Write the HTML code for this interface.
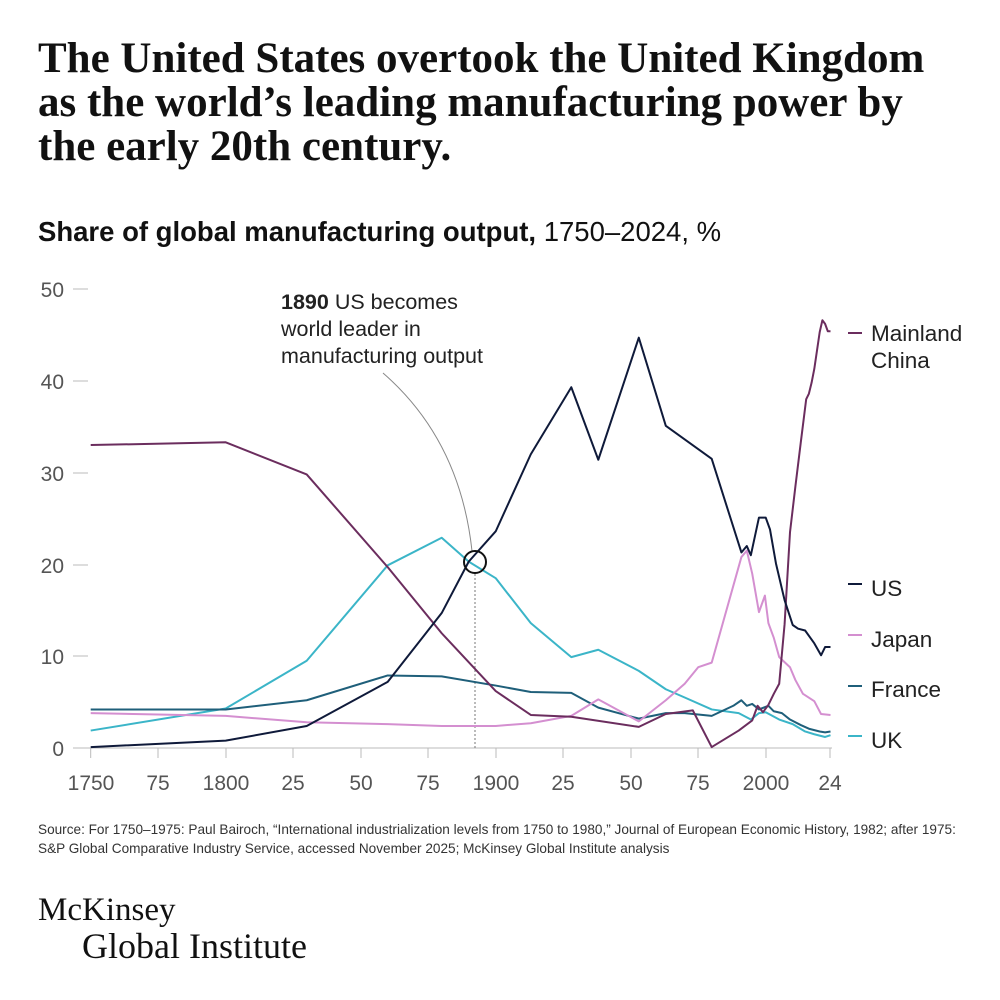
<!DOCTYPE html>
<html><head><meta charset="utf-8"><style>
body{margin:0;background:#fff;width:1000px;height:1000px;overflow:hidden;font-family:"Liberation Sans",sans-serif}
.t{position:absolute;left:38px;top:37px;font-family:"Liberation Serif",serif;font-weight:bold;font-size:43px;line-height:44px;color:#111;white-space:nowrap}
.s{position:absolute;left:38px;top:216px;font-size:27.5px;color:#111;white-space:nowrap}
.src{position:absolute;left:38px;top:820px;font-size:13.6px;line-height:19px;color:#333;white-space:nowrap}
.logo1{position:absolute;left:38px;top:892px;font-family:"Liberation Serif",serif;font-size:33px;color:#111;white-space:nowrap}
.logo2{position:absolute;left:82px;top:925px;font-family:"Liberation Serif",serif;font-size:36px;color:#111;white-space:nowrap}
</style></head><body>
<div class="t">The United States overtook the United Kingdom<br>as the world’s leading manufacturing power by<br>the early 20th century.</div>
<div class="s"><b>Share of global manufacturing output,</b> 1750–2024, %</div>
<svg width="1000" height="1000" style="position:absolute;left:0;top:0">
<g font-family="Liberation Sans" font-size="21" fill="#555" text-anchor="end">
<text x="64" y="297">50</text><text x="64" y="389">40</text><text x="64" y="481">30</text><text x="64" y="573">20</text><text x="64" y="664">10</text><text x="64" y="756">0</text>
</g>
<g stroke="#bbb" stroke-width="1">
<line x1="73" x2="88" y1="289" y2="289"/><line x1="73" x2="88" y1="381" y2="381"/><line x1="73" x2="88" y1="473" y2="473"/><line x1="73" x2="88" y1="565" y2="565"/><line x1="73" x2="88" y1="656" y2="656"/>
<line x1="73" x2="832" y1="748" y2="748"/>
<line x1="90.7" x2="90.7" y1="748" y2="758"/><line x1="158" x2="158" y1="748" y2="758"/><line x1="226" x2="226" y1="748" y2="758"/><line x1="293" x2="293" y1="748" y2="758"/><line x1="361" x2="361" y1="748" y2="758"/><line x1="428" x2="428" y1="748" y2="758"/><line x1="496" x2="496" y1="748" y2="758"/><line x1="563" x2="563" y1="748" y2="758"/><line x1="631" x2="631" y1="748" y2="758"/><line x1="698" x2="698" y1="748" y2="758"/><line x1="766" x2="766" y1="748" y2="758"/><line x1="830" x2="830" y1="748" y2="758"/>
</g>
<g font-family="Liberation Sans" font-size="21" fill="#555" text-anchor="middle">
<text x="91" y="790">1750</text><text x="158" y="790">75</text><text x="226" y="790">1800</text><text x="293" y="790">25</text><text x="361" y="790">50</text><text x="428" y="790">75</text><text x="496" y="790">1900</text><text x="563" y="790">25</text><text x="631" y="790">50</text><text x="698" y="790">75</text><text x="766" y="790">2000</text><text x="830" y="790">24</text>
</g>
<line x1="475" y1="574" x2="475" y2="748" stroke="#777" stroke-dasharray="2,2"/>
<path d="M383,373 Q460,440 472,551" fill="none" stroke="#888" stroke-width="1"/>
<g transform="translate(-4634.3,748) scale(2.7,-9.18)" fill="none" stroke-width="2" stroke-linejoin="round">
<polyline vector-effect="non-scaling-stroke" stroke="#3bb5c8" points="1750,1.9 1800,4.3 1830,9.5 1860,19.9 1880,22.9 1890,20.3 1900,18.5 1913,13.6 1928,9.9 1938,10.7 1953,8.4 1963,6.4 1970,5.5 1980,4.2 1990,3.8 1994.5,3.1 1997.5,3.8 2000,3.9 2005,3.1 2010,2.6 2014.6,1.8 2018,1.5 2022,1.2 2024,1.4"/>
<polyline vector-effect="non-scaling-stroke" stroke="#1f5f7a" points="1750,4.2 1800,4.2 1830,5.2 1860,7.9 1880,7.8 1900,6.8 1913,6.1 1928,6.0 1938,4.4 1953,3.2 1963,3.8 1970,3.8 1980,3.5 1988,4.6 1991,5.2 1993,4.6 1995,4.8 1997.5,4.2 2001,4.6 2003,4 2006,3.8 2009,3.1 2013,2.5 2016,2.1 2020,1.8 2022,1.7 2024,1.8"/>
<polyline vector-effect="non-scaling-stroke" stroke="#d48fd0" points="1750,3.8 1800,3.5 1830,2.8 1860,2.6 1880,2.4 1900,2.4 1913,2.7 1928,3.5 1938,5.3 1953,2.9 1963,5.2 1970,7 1975,8.8 1980,9.3 1991,20.8 1993,21.5 1995,19 1997.5,14.8 1999.7,16.6 2001,13.6 2003,12 2005,9.9 2009,8.8 2011,7.4 2013.8,5.9 2018,5.1 2020.5,3.7 2024,3.6"/>
<polyline vector-effect="non-scaling-stroke" stroke="#6b2d5e" points="1750,33 1800,33.3 1830,29.8 1860,19.7 1880,12.5 1900,6.2 1913,3.6 1928,3.4 1953,2.3 1963,3.7 1973,4.1 1980,0.1 1990,1.9 1995,3 1997,4.6 1999,3.9 2001,4.7 2003,5.9 2005,7 2007,13.5 2009,23.5 2011,28.5 2013,33.3 2015,38 2016,38.6 2017,39.8 2018,41.3 2019,43.3 2020,45.3 2021,46.6 2022,46.2 2023,45.4 2024,45.4"/>
<polyline vector-effect="non-scaling-stroke" stroke="#0f1a3a" points="1750,0.1 1800,0.8 1830,2.4 1860,7.2 1880,14.7 1890,20.3 1900,23.6 1913,32 1928,39.3 1938,31.4 1953,44.7 1963,35.1 1980,31.5 1991,21.3 1993,22 1994.5,21 1997.5,25.1 2000,25.1 2001.6,23.8 2003.8,20.1 2007,16.1 2010,13.4 2012,13 2014.6,12.8 2018,11.4 2020.5,10.1 2022,11 2024,11"/>
</g>
<circle cx="475" cy="562" r="11" fill="none" stroke="#111" stroke-width="2"/>
<g stroke-width="2">
<line x1="848" x2="862" y1="333" y2="333" stroke="#6b2d5e"/>
<line x1="848" x2="862" y1="584" y2="584" stroke="#0f1a3a"/>
<line x1="848" x2="862" y1="635" y2="635" stroke="#d48fd0"/>
<line x1="848" x2="862" y1="686" y2="686" stroke="#1f5f7a"/>
<line x1="848" x2="862" y1="736" y2="736" stroke="#3bb5c8"/>
</g>
<g font-family="Liberation Sans" font-size="22.5" fill="#222">
<text x="871" y="341">Mainland</text><text x="871" y="368">China</text>
<text x="871" y="596">US</text><text x="871" y="647">Japan</text><text x="871" y="697">France</text><text x="871" y="748">UK</text>
</g>
<g font-family="Liberation Sans" font-size="21.5" fill="#222">
<text x="281" y="309"><tspan font-weight="bold">1890</tspan> US becomes</text>
<text x="281" y="336">world leader in</text>
<text x="281" y="363">manufacturing output</text>
</g>
</svg>
<div class="src">Source: For 1750–1975: Paul Bairoch, “International industrialization levels from 1750 to 1980,” Journal of European Economic History, 1982; after 1975:<br>S&amp;P Global Comparative Industry Service, accessed November 2025; McKinsey Global Institute analysis</div>
<div class="logo1">McKinsey</div>
<div class="logo2">Global Institute</div>
</body></html>
